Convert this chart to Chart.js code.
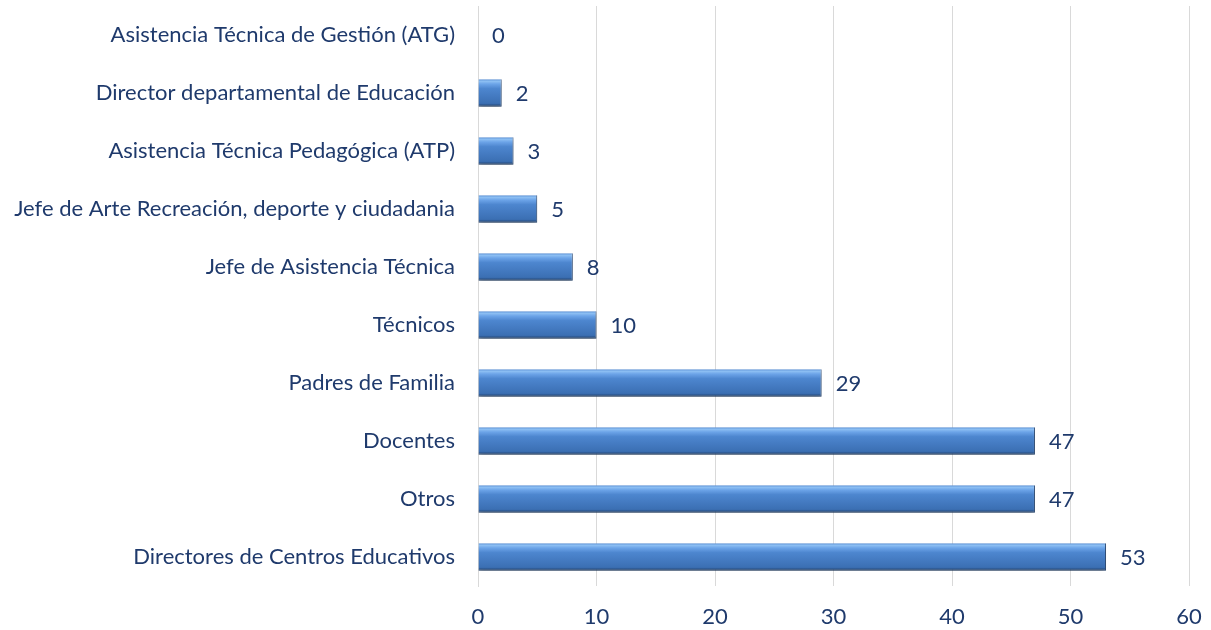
<!DOCTYPE html>
<html lang="es">
<head>
    <meta charset="UTF-8">
    <title>Participantes</title>
    <script src="https://cdn.jsdelivr.net/npm/chart.js"></script>
    <style>
        html, body { margin: 0; padding: 0; background: #fff; }
        #wrap { width: 1211px; height: 630px; }
    </style>
</head>
<body>
<div id="wrap"><canvas id="grafico"></canvas></div>
<script>
    const categorias = [
        'Asistencia Técnica de Gestión (ATG)',
        'Director departamental de Educación',
        'Asistencia Técnica Pedagógica (ATP)',
        'Jefe de Arte Recreación, deporte y ciudadania',
        'Jefe de Asistencia Técnica',
        'Técnicos',
        'Padres de Familia',
        'Docentes',
        'Otros',
        'Directores de Centros Educativos'
    ];
    const valores = [0, 2, 3, 5, 8, 10, 29, 47, 47, 53];

    const colorTexto = '#1f3a6c';
    const fuente = "'Lato', 'Open Sans', sans-serif";

    // degradado vertical para cada barra + sombra suave
    const degradadoBarras = {
        id: 'degradadoBarras',
        beforeDatasetsDraw(chart) {
            const ctx = chart.ctx;
            ctx.save();
            ctx.shadowColor = 'rgba(0,0,0,0.28)';
            ctx.shadowBlur = 5;
            ctx.shadowOffsetY = 3;
            chart.getDatasetMeta(0).data.forEach(el => {
                const top = el.y - el.height / 2;
                const bottom = el.y + el.height / 2;
                const g = ctx.createLinearGradient(0, top, 0, bottom);
                g.addColorStop(0, '#5d93d8');
                g.addColorStop(0.07, '#8dbff3');
                g.addColorStop(0.17, '#6ca4e8');
                g.addColorStop(0.34, '#4d86cf');
                g.addColorStop(0.88, '#3b6fb3');
                g.addColorStop(1, '#1e3c66');
                el.options = Object.assign({}, el.options, { backgroundColor: g });
            });
        },
        afterDatasetsDraw(chart) {
            chart.ctx.restore();
        }
    };

    // etiquetas de valor al final de cada barra
    const etiquetasValor = {
        id: 'etiquetasValor',
        afterDatasetsDraw(chart) {
            const ctx = chart.ctx;
            ctx.save();
            ctx.font = '22px ' + fuente;
            ctx.fillStyle = colorTexto;
            ctx.textAlign = 'left';
            ctx.textBaseline = 'middle';
            chart.getDatasetMeta(0).data.forEach((el, i) => {
                ctx.fillText(String(valores[i]), el.x + 14, el.y + 1);
            });
            ctx.restore();
        }
    };

    new Chart(document.getElementById('grafico'), {
        type: 'bar',
        data: {
            labels: categorias,
            datasets: [{
                data: valores,
                backgroundColor: '#4f81bd',
                borderColor: '#2a4b78',
                borderWidth: { top: 0, left: 0, right: 1, bottom: 1 },
                borderSkipped: false,
                barPercentage: 0.47,
                categoryPercentage: 1
            }]
        },
        plugins: [degradadoBarras, etiquetasValor],
        options: {
            indexAxis: 'y',
            responsive: true,
            maintainAspectRatio: false,
            animation: false,
            layout: { padding: { left: 0, right: 22, top: 6, bottom: 0 } },
            plugins: {
                legend: { display: false },
                tooltip: { enabled: false }
            },
            scales: {
                x: {
                    min: 0,
                    max: 60,
                    ticks: {
                        stepSize: 10,
                        color: colorTexto,
                        font: { family: fuente, size: 22 },
                        padding: 18
                    },
                    grid: { color: '#d9d9d9', lineWidth: 1, drawTicks: false },
                    border: { display: false },
                    afterFit(scale) {
                        scale.height = 44;
                        scale.paddingLeft = 0;
                        scale.paddingRight = 0;
                    }
                },
                y: {
                    ticks: {
                        color: colorTexto,
                        font: { family: fuente, size: 22 },
                        padding: 15
                    },
                    grid: { display: false },
                    border: { display: true, color: '#d9d9d9' },
                    afterFit(scale) {
                        scale.width = 478;
                        scale.paddingTop = 0;
                        scale.paddingBottom = 0;
                    }
                }
            }
        }
    });
</script>
</body>
</html>
